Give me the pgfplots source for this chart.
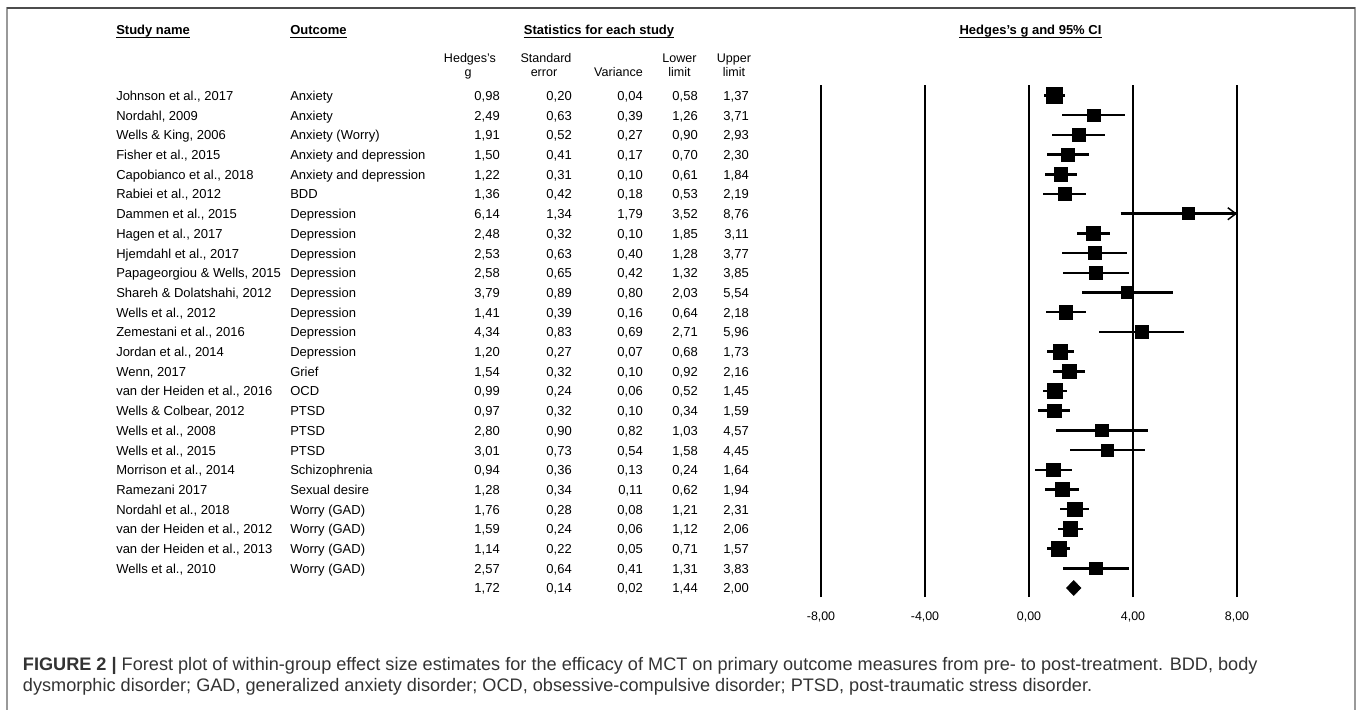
\documentclass[border=0pt]{standalone}
\usepackage{pgfplots}
\pgfplotsset{compat=1.18}
\usepackage{pgfplotstable}
\usepackage{fontspec}
\setmainfont{Liberation Sans}
\usetikzlibrary{arrows.meta}

% row, Hedges's g, lower and upper limit, square width (px)
\pgfplotstableread{
row g lo hi w
1 0.98 0.58 1.37 14.9
2 2.49 1.26 3.71 12.3
3 1.91 0.90 2.93 12.5
4 1.50 0.70 2.30 12.8
5 1.22 0.61 1.84 13.2
6 1.36 0.53 2.19 12.7
7 6.14 3.52 8.76 11.6
8 2.48 1.85 3.11 13.2
9 2.53 1.28 3.77 12.3
10 2.58 1.32 3.85 12.3
11 3.79 2.03 5.54 11.9
12 1.41 0.64 2.18 12.8
13 4.34 2.71 5.96 12.0
14 1.20 0.68 1.73 13.8
15 1.54 0.92 2.16 13.2
16 0.99 0.52 1.45 14.0
17 0.97 0.34 1.59 13.2
18 2.80 1.03 4.57 11.9
19 3.01 1.58 4.45 12.1
20 0.94 0.24 1.64 13.0
21 1.28 0.62 1.94 13.1
22 1.76 1.21 2.31 13.6
23 1.59 1.12 2.06 14.0
24 1.14 0.71 1.57 14.4
25 2.57 1.31 3.83 12.3
}\studies

\tikzset{
  tab/.style={inner sep=0pt, font=\fontsize{9.75}{14.775}\selectfont},
  head/.style={inner sep=0pt, font=\fontsize{9.75}{12}\selectfont\bfseries},
  colhead/.style={inner sep=0pt, anchor=base, font=\fontsize{9.4}{11}\selectfont},
  capt/.style={inner sep=0pt, anchor=base west, text=black!80, font=\fontsize{13.6}{16}\selectfont},
}

\begin{document}
\begin{tikzpicture}
\useasboundingbox (0pt,0pt) rectangle (1017.75pt,-532.5pt);

\begin{axis}[
  at={(615.75pt,-63.75pt)}, anchor=north west,
  scale only axis, width=312pt, height=384pt,
  xmin=-8, xmax=8, ymin=-26.457, ymax=-0.467,
  axis line style={draw=none}, major tick length=0pt,
  ytick=\empty,
  xtick={-8,-4,0,4,8},
  xticklabels={{-8,00},{-4,00},{0,00},{4,00},{8,00}},
  xticklabel style={font=\fontsize{9.3}{11}\selectfont, yshift=-7.6pt},
  xmajorgrids=true,
  grid style={black, line width=1.9pt},
  clip=false,
]
\addplot[scatter, only marks, mark=square*,
  scatter/use mapped color={draw=black, fill=black},
  visualization depends on={0.39*\thisrow{w} \as \msize},
  scatter/@pre marker code/.append style={/tikz/mark size=\msize},
  error bars/.cd, x dir=both, x explicit, error mark=none,
  error bar style={line width=1.9pt, black}]
  table[x=g, y expr=-\thisrow{row},
        x error minus expr={\thisrow{g}-\thisrow{lo}},
        x error plus expr={min(\thisrow{hi},8)-\thisrow{g}}] {\studies};
% Dammen et al.: interval runs past the axis
\addplot[line width=1.9pt, -{Straight Barb[length=6pt,width=9pt,line width=1.1pt]}]
  coordinates {(3.52,-7) (8,-7)};
% summary diamond
\addplot[fill=black, draw=black, line width=0.4pt]
  coordinates {(1.44,-26) (1.72,-25.62) (2.00,-26) (1.72,-26.38)} -- cycle;
\end{axis}

\begin{scope}[x=0.75pt,y=-0.75pt]
\draw[black!40,line width=1.1pt] (7,710)--(7,8)--(1355,8)--(1355,710);
\draw[black!70,line width=1.1pt] (7,8)--(1355,8);

% headers
\node[head, anchor=base west] (sn) at (116,34.5) {Study name};
\node[head, anchor=base west] (oc) at (290,34.5) {Outcome};
\node[head, anchor=base] (st) at (599,34.5) {Statistics for each study};
\node[head, anchor=base] (hg) at (1030.5,34.5) {Hedges's g and 95\% CI};
\foreach \n in {sn,oc,st,hg}
  \draw[line width=1.1pt] ([yshift=-2.2pt]\n.base west) -- ([yshift=-2.2pt]\n.base east);

\node[colhead] at (470,63) {Hedges's};
\node[colhead] at (546,63) {Standard};
\node[colhead] at (679.5,63) {Lower};
\node[colhead] at (734,63) {Upper};
\node[colhead] at (468,76.5) {g};
\node[colhead] at (544,76.5) {error};
\node[colhead] at (618.5,76.5) {Variance};
\node[colhead] at (679.5,76.5) {limit};
\node[colhead] at (734,76.5) {limit};

% table body
\node[tab, anchor=base west] at (116,100.5) {\begin{tabular}[t]{@{}l@{}}
Johnson et al., 2017\\ Nordahl, 2009\\ Wells \& King, 2006\\ Fisher et al., 2015\\
Capobianco et al., 2018\\ Rabiei et al., 2012\\ Dammen et al., 2015\\ Hagen et al., 2017\\
Hjemdahl et al., 2017\\ Papageorgiou \& Wells, 2015\\ Shareh \& Dolatshahi, 2012\\
Wells et al., 2012\\ Zemestani et al., 2016\\ Jordan et al., 2014\\ Wenn, 2017\\
van der Heiden et al., 2016\\ Wells \& Colbear, 2012\\ Wells et al., 2008\\
Wells et al., 2015\\ Morrison et al., 2014\\ Ramezani 2017\\ Nordahl et al., 2018\\
van der Heiden et al., 2012\\ van der Heiden et al., 2013\\ Wells et al., 2010
\end{tabular}};
\node[tab, anchor=base west] at (290,100.5) {\begin{tabular}[t]{@{}l@{}}
Anxiety\\ Anxiety\\ Anxiety (Worry)\\ Anxiety and depression\\ Anxiety and depression\\
BDD\\ Depression\\ Depression\\ Depression\\ Depression\\ Depression\\ Depression\\
Depression\\ Depression\\ Grief\\ OCD\\ PTSD\\ PTSD\\ PTSD\\ Schizophrenia\\
Sexual desire\\ Worry (GAD)\\ Worry (GAD)\\ Worry (GAD)\\ Worry (GAD)
\end{tabular}};
\node[tab, anchor=base east] at (500,100.5) {\begin{tabular}[t]{@{}r@{}}
0,98\\ 2,49\\ 1,91\\ 1,50\\ 1,22\\ 1,36\\ 6,14\\ 2,48\\ 2,53\\ 2,58\\ 3,79\\ 1,41\\ 4,34\\
1,20\\ 1,54\\ 0,99\\ 0,97\\ 2,80\\ 3,01\\ 0,94\\ 1,28\\ 1,76\\ 1,59\\ 1,14\\ 2,57\\ 1,72
\end{tabular}};
\node[tab, anchor=base east] at (572,100.5) {\begin{tabular}[t]{@{}r@{}}
0,20\\ 0,63\\ 0,52\\ 0,41\\ 0,31\\ 0,42\\ 1,34\\ 0,32\\ 0,63\\ 0,65\\ 0,89\\ 0,39\\ 0,83\\
0,27\\ 0,32\\ 0,24\\ 0,32\\ 0,90\\ 0,73\\ 0,36\\ 0,34\\ 0,28\\ 0,24\\ 0,22\\ 0,64\\ 0,14
\end{tabular}};
\node[tab, anchor=base east] at (643,100.5) {\begin{tabular}[t]{@{}r@{}}
0,04\\ 0,39\\ 0,27\\ 0,17\\ 0,10\\ 0,18\\ 1,79\\ 0,10\\ 0,40\\ 0,42\\ 0,80\\ 0,16\\ 0,69\\
0,07\\ 0,10\\ 0,06\\ 0,10\\ 0,82\\ 0,54\\ 0,13\\ 0,11\\ 0,08\\ 0,06\\ 0,05\\ 0,41\\ 0,02
\end{tabular}};
\node[tab, anchor=base east] at (698,100.5) {\begin{tabular}[t]{@{}r@{}}
0,58\\ 1,26\\ 0,90\\ 0,70\\ 0,61\\ 0,53\\ 3,52\\ 1,85\\ 1,28\\ 1,32\\ 2,03\\ 0,64\\ 2,71\\
0,68\\ 0,92\\ 0,52\\ 0,34\\ 1,03\\ 1,58\\ 0,24\\ 0,62\\ 1,21\\ 1,12\\ 0,71\\ 1,31\\ 1,44
\end{tabular}};
\node[tab, anchor=base east] at (749,100.5) {\begin{tabular}[t]{@{}r@{}}
1,37\\ 3,71\\ 2,93\\ 2,30\\ 1,84\\ 2,19\\ 8,76\\ 3,11\\ 3,77\\ 3,85\\ 5,54\\ 2,18\\ 5,96\\
1,73\\ 2,16\\ 1,45\\ 1,59\\ 4,57\\ 4,45\\ 1,64\\ 1,94\\ 2,31\\ 2,06\\ 1,57\\ 3,83\\ 2,00
\end{tabular}};

% caption
\node[capt] at (22.7,670) {\textbf{FIGURE 2 |} Forest plot of within-group effect size estimates for the efficacy of MCT on primary outcome measures from pre- to post-treatment. BDD, body};
\node[capt] at (22.7,691.5) {dysmorphic disorder; GAD, generalized anxiety disorder; OCD, obsessive-compulsive disorder; PTSD, post-traumatic stress disorder.};
\end{scope}
\end{tikzpicture}
\end{document}
